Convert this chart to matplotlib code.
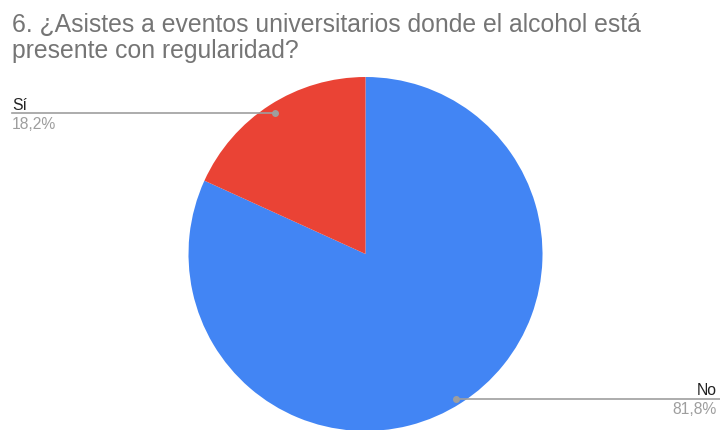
import matplotlib
matplotlib.use('Agg')
import matplotlib.pyplot as plt

W, H = 720, 431

labels = ['No', 'Sí']
values = [81.8, 18.2]
colors = ['#4285f4', '#ea4335']
pct_text = ['81,8%', '18,2%']

title_lines = ['6. ¿Asistes a eventos universitarios donde el alcohol está',
               'presente con regularidad?']

plt.rcParams['font.family'] = ['Liberation Sans', 'DejaVu Sans']

fig = plt.figure(figsize=(W / 100, H / 100), dpi=100)
ax = fig.add_axes([0, 0, 1, 1])

# pixel-style coordinates, y measured from the top
def py(y):
    return H - y

cx, cy, r = 365.5, 255.0, 177.0
ax.pie(values, colors=colors, startangle=90, counterclock=False,
       center=(cx, py(cy)), radius=r, wedgeprops={'linewidth': 0})

ax.set_xlim(0, W)
ax.set_ylim(0, H)
ax.set_aspect('equal')
ax.axis('off')

line_c = '#9e9e9e'
lab_fs = 11.3

# Sí callout
ax.plot([12, 275], [py(114), py(114)], color=line_c, lw=1.2)
ax.plot([275], [py(114)], 'o', color=line_c, ms=4)
ax.text(12, py(110), labels[1], fontsize=lab_fs, color='#222222', ha='left', va='baseline')
ax.text(12, py(129), pct_text[1], fontsize=lab_fs, color='#9e9e9e', ha='left', va='baseline')

# No callout
ax.plot([456, W], [py(399.5), py(399.5)], color=line_c, lw=1.2)
ax.plot([456], [py(399.5)], 'o', color=line_c, ms=4)
ax.text(717, py(395), labels[0], fontsize=lab_fs, color='#222222', ha='right', va='baseline')
ax.text(717, py(414), pct_text[0], fontsize=lab_fs, color='#9e9e9e', ha='right', va='baseline')

for i, line in enumerate(title_lines):
    ax.text(12, py(32 + 26 * i), line, fontsize=17.8, color='#757575',
            ha='left', va='baseline')

fig.savefig('out.png', dpi=100)
